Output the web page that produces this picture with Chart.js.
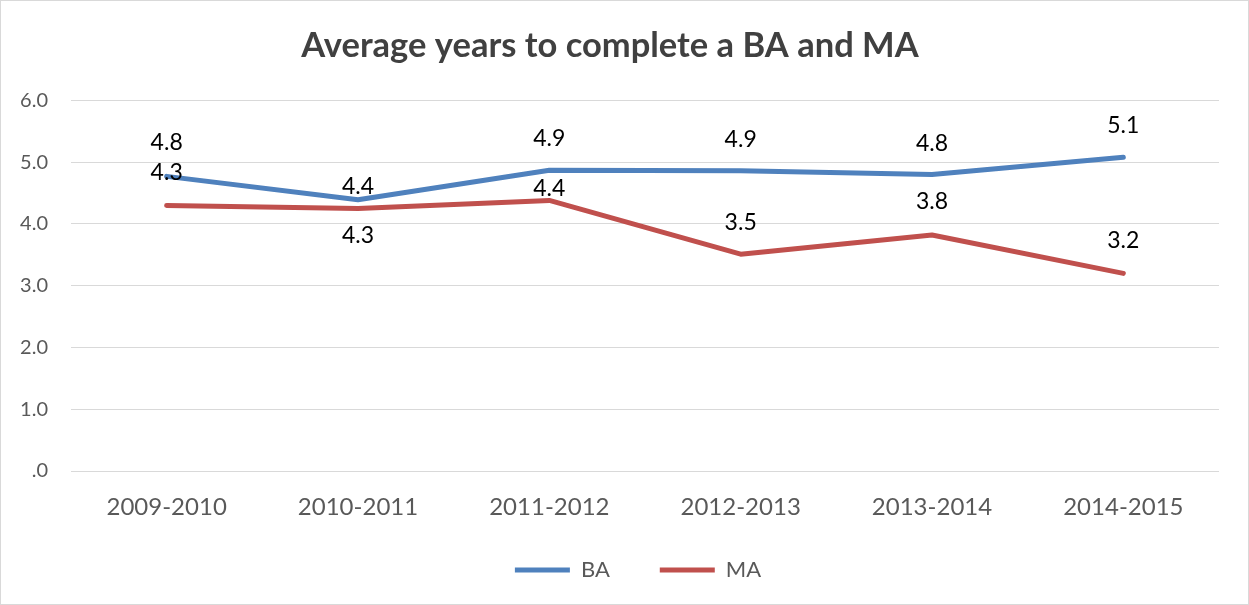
<!DOCTYPE html>
<html>
<head>
<meta charset="utf-8">
<script src="https://cdn.jsdelivr.net/npm/chart.js@4"></script>
<style>
  body { margin: 0; background: #fff; }
  #box { width: 1249px; height: 605px; box-sizing: border-box; border: 1px solid #d9d9d9; }
  canvas { display: block; }
</style>
</head>
<body>
<div id="box"><canvas id="chart" width="1247" height="603"></canvas></div>
<script>
// data
let years = ["2009-2010", "2010-2011", "2011-2012", "2012-2013", "2013-2014", "2014-2015"];
let baYears = [4.77, 4.39, 4.87, 4.86, 4.80, 5.08];
let maYears = [4.30, 4.25, 4.38, 3.51, 3.82, 3.20];
let yTicks = [0, 1, 2, 3, 4, 5, 6];

// how far each value label sits above (+) or below (-) its point
let labelShift = [
  [34, 13, 32, 31, 31, 32],
  [33, -27, 12, 32, 33, 33]
];

const FONT = "Lato, 'Open Sans', sans-serif";

// **Draw the value labels next to each point**
const valueLabels = {
  id: "valueLabels",
  afterDatasetsDraw(chart) {
    let ctx = chart.ctx;
    ctx.save();
    ctx.font = "23px " + FONT;
    ctx.fillStyle = "#000";
    ctx.textAlign = "center";
    ctx.textBaseline = "middle";
    chart.data.datasets.forEach((ds, i) => {
      chart.getDatasetMeta(i).data.forEach((pt, j) => {
        ctx.fillText(ds.data[j].toFixed(1), pt.x, pt.y - labelShift[i][j]);
      });
    });
    ctx.restore();
  }
};

// **Nudge the legend so it sits where the original has it**
const legendNudge = {
  id: "legendNudge",
  afterLayout(chart) {
    let lg = chart.legend;
    lg.left += 28;
    lg.right += 28;
    lg.top -= 22;
    lg.bottom += 30; // keep room so the legend isn't clipped
  }
};

function lineSet(label, data, color) {
  return {
    label: label,
    data: data,
    borderColor: color,
    backgroundColor: color,
    borderWidth: 5,
    borderCapStyle: "round",
    borderJoinStyle: "round",
    pointRadius: 0,
    tension: 0,
    fill: false
  };
}

new Chart(document.getElementById("chart").getContext("2d"), {
  type: "line",
  data: {
    labels: years,
    datasets: [
      lineSet("BA", baYears, "#4f81bd"),
      lineSet("MA", maYears, "#c0504d")
    ]
  },
  plugins: [valueLabels, legendNudge],
  options: {
    responsive: false,
    animation: false,
    layout: { padding: { left: 0, right: 29, top: 0, bottom: 13 } },
    plugins: {
      title: {
        display: true,
        text: "Average years to complete a BA and MA",
        color: "#404040",
        font: { family: FONT, size: 34.5, weight: "bold" },
        padding: { top: 24, bottom: 34 }
      },
      legend: {
        position: "bottom",
        maxHeight: 60,
        labels: {
          usePointStyle: true,
          pointStyle: "line",
          pointStyleWidth: 55,
          color: "#595959",
          font: { family: FONT, size: 22 },
          padding: 50
        }
      },
      tooltip: { enabled: false }
    },
    scales: {
      x: {
        offset: true,
        afterFit: s => { s.height = 60; },
        grid: { display: false, drawTicks: false },
        border: { display: false },
        ticks: { color: "#595959", font: { family: FONT, size: 24 }, padding: 22 }
      },
      y: {
        min: 0,
        max: 6,
        afterFit: s => { s.width = 70; },
        afterBuildTicks: s => { s.ticks = yTicks.map(v => ({ value: v })); },
        grid: { color: "#d9d9d9", lineWidth: 1, drawTicks: false },
        border: { display: false },
        ticks: {
          color: "#595959",
          font: { family: FONT, size: 20 },
          padding: 23,
          callback: v => v === 0 ? ".0" : v.toFixed(1)
        }
      }
    }
  }
});
</script>
</body>
</html>
